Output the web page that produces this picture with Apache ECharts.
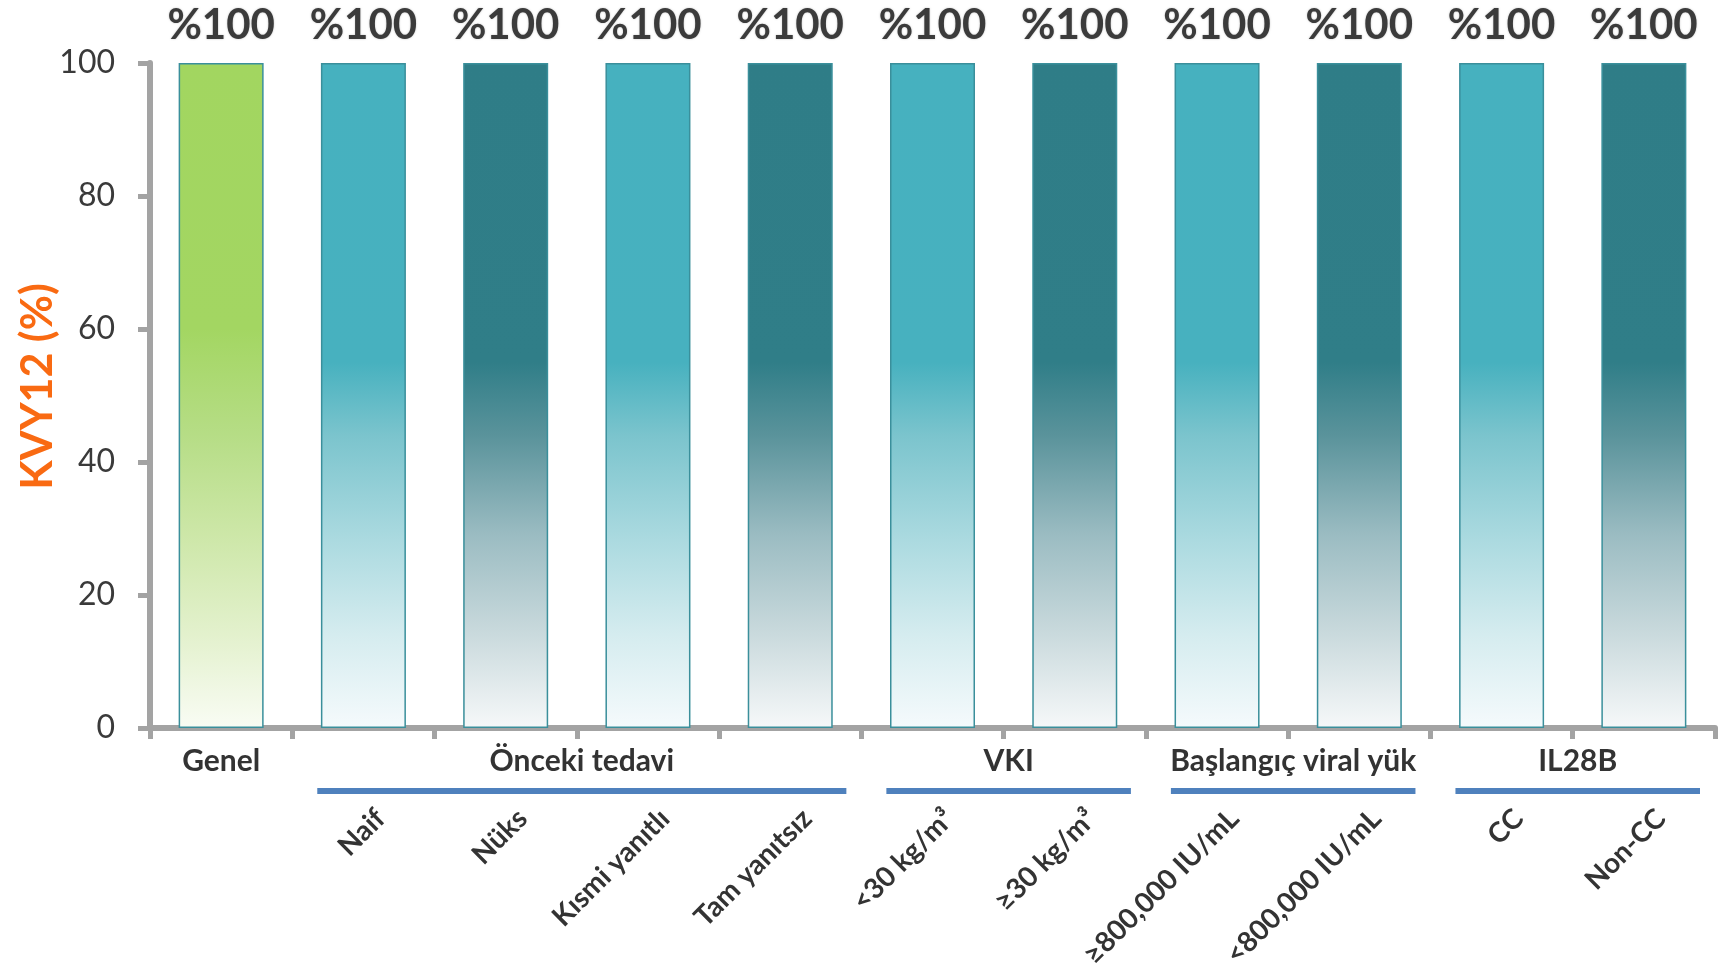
<!DOCTYPE html>
<html>
<head>
<meta charset="utf-8">
<script src="https://cdn.jsdelivr.net/npm/echarts@6/dist/echarts.min.js"></script>
<style>
  html, body { margin: 0; padding: 0; background: #ffffff; }
  #chart { width: 1729px; height: 974px; }
</style>
</head>
<body>
<div id="chart"></div>
<script>
// ---- data ----
const categories = ['Genel', 'Naif', 'Nüks', 'Kısmi yanıtlı', 'Tam yanıtsız', '<30 kg/m³', '≥30 kg/m³', '≥800,000 IU/mL', '<800,000 IU/mL', 'CC', 'Non-CC'];
const values = [100, 100, 100, 100, 100, 100, 100, 100, 100, 100, 100];
const barShade = ['green', 'light', 'dark', 'light', 'dark', 'light', 'dark', 'light', 'dark', 'light', 'dark'];
const groupNames = ['Genel', 'Önceki tedavi', 'VKI', 'Başlangıç viral yük', 'IL28B'];
const groupStart = [0, 1, 5, 7, 9];
const groupEnd = [0, 4, 6, 8, 10];
const groupUnderline = [false, true, true, true, true];
const yAxisName = 'KVY12 (%)';
const yMin = 0, yMax = 100, yStep = 20;

// ---- styles ----
const FONT = 'Lato, "Open Sans", "DejaVu Sans", sans-serif';
function grad(stops) {
  return { type: 'linear', x: 0, y: 0, x2: 0, y2: 1,
    colorStops: stops.map(s => ({ offset: s[0], color: s[1] })) };
}
const fills = {
  green: grad([[0, '#A2D660'], [0.40, '#A3D662'], [0.56, '#B6DD86'], [0.71, '#CDE7A8'], [0.86, '#E3F1CD'], [1, '#F9FCF4']]),
  light: grad([[0, '#46B1BF'], [0.45, '#47B1BF'], [0.56, '#7BC4CD'], [0.71, '#A9D9DF'], [0.86, '#D5ECEF'], [1, '#F5FAFC']]),
  dark:  grad([[0, '#2F7D87'], [0.45, '#307E88'], [0.56, '#5A939B'], [0.71, '#9BBCC2'], [0.86, '#CADADD'], [1, '#F6F8F9']])
};
const AXIS_GRAY = '#A3A3A3';
const TEXT = '#333333';

const singleGroup = i => {
  const g = groupStart.indexOf(i);
  return g !== -1 && groupStart[g] === groupEnd[g];
};

const chart = echarts.init(document.getElementById('chart'), null, { renderer: 'canvas' });

const option = {
  backgroundColor: '#ffffff',
  animation: false,
  grid: [
    { left: 150, right: 14, top: 63, bottom: 246, outerBoundsMode: 'none', containLabel: false },
    { left: 167, right: -3, top: 63, bottom: 246, outerBoundsMode: 'none', containLabel: false }
  ],
  xAxis: [
    {
      type: 'category', gridIndex: 0, data: categories,
      boundaryGap: true,
      axisLine: { show: true, lineStyle: { color: AXIS_GRAY, width: 6 } },
      axisTick: { show: true, length: 11, lineStyle: { color: AXIS_GRAY, width: 5 } },
      axisLabel: { show: false }
    },
    {
      type: 'category', gridIndex: 1, data: categories,
      boundaryGap: true,
      axisLine: { show: false }, axisTick: { show: false },
      axisLabel: {
        show: true, interval: 0, rotate: 45, margin: 86,
        fontFamily: FONT, fontSize: 28, fontWeight: 'bold', color: TEXT,
        formatter: (v, i) => singleGroup(i) ? '' : v
      }
    }
  ],
  yAxis: [
    {
      type: 'value', gridIndex: 0, min: yMin, max: yMax, interval: yStep,
      name: yAxisName, nameLocation: 'middle', nameRotate: 90, nameGap: 90,
      nameMoveOverlap: false,
      nameTextStyle: { color: '#F96A12', fontFamily: FONT, fontSize: 43, fontWeight: 'bold',
        padding: [0, 0, 0, 18] },
      axisLine: { show: true, lineStyle: { color: AXIS_GRAY, width: 6 } },
      axisTick: { show: true, length: 12, lineStyle: { color: AXIS_GRAY, width: 5 } },
      splitLine: { show: false },
      axisLabel: { margin: 35, fontFamily: FONT, fontSize: 32, color: '#3a3a3a' }
    },
    { type: 'value', gridIndex: 1, min: yMin, max: yMax, show: false }
  ],
  series: [
    {
      type: 'bar', xAxisIndex: 0, yAxisIndex: 0,
      barWidth: 85,
      data: values.map((v, i) => ({
        value: v,
        itemStyle: { color: fills[barShade[i]], borderColor: '#3A8F9B', borderWidth: 1.5 }
      })),
      label: {
        show: true, position: 'top', distance: 17,
        fontFamily: FONT, fontSize: 42, fontWeight: 'bold', color: '#3b3b3b',
        textShadowColor: 'rgba(0,0,0,0.25)', textShadowBlur: 2,
        formatter: p => '%' + p.value
      }
    }
  ]
};
chart.setOption(option);

// group labels and underlines, placed through the axis scales
function drawGroups() {
  const px = c => chart.convertToPixel({ xAxisIndex: 0 }, c);
  const base = chart.convertToPixel({ yAxisIndex: 0 }, yMin);
  const band = px(categories[1]) - px(categories[0]);
  const elements = [];
  groupNames.forEach((name, g) => {
    const x0 = px(categories[groupStart[g]]) - band / 2;
    const x1 = px(categories[groupEnd[g]]) + band / 2;
    let cx = (x0 + x1) / 2;
    if (groupUnderline[g]) {
      const lx0 = x0 + 25, lx1 = x1 - 15;
      cx = (lx0 + lx1) / 2;
      elements.push({
        type: 'line', silent: true,
        shape: { x1: lx0, y1: base + 63, x2: lx1, y2: base + 63 },
        style: { stroke: '#4F81BD', lineWidth: 6 }
      });
    }
    elements.push({
      type: 'text', silent: true, x: cx, y: base + 33,
      style: { text: name, align: 'center', verticalAlign: 'middle',
        fontFamily: FONT, fontSize: 30, fontWeight: 'bold', fill: TEXT }
    });
  });
  chart.setOption({ graphic: elements });
}
drawGroups();
</script>
</body>
</html>
